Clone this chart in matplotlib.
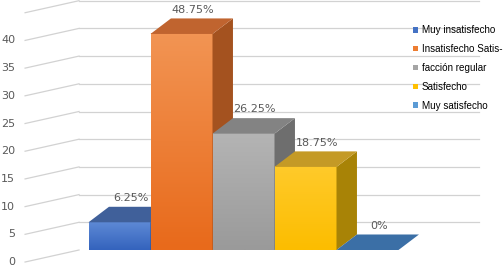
"""Excel-style 3D column chart of satisfaction levels, drawn as oblique faces on a 2D axes."""

import matplotlib
matplotlib.use("Agg")
import matplotlib.pyplot as plt
from matplotlib.colors import LinearSegmentedColormap
from matplotlib.patches import Patch, Polygon
import numpy as np

categories = ["Muy insatisfecho", "Insatisfecho Satis-", "facción regular",
              "Satisfecho", "Muy satisfecho"]
counts = [5, 39, 21, 15, 0]
pct_labels = ["6.25%", "48.75%", "26.25%", "18.75%", "0%"]
yticks = [0, 5, 10, 15, 20, 25, 30, 35, 40]
grid_levels = [5, 10, 15, 20, 25, 30, 35, 40, 45]

# front-top, front-bottom, top face, right side face
colors = [
    ("#5D89D5", "#3463BD", "#40609A", "#2F4F8B"),
    ("#F29453", "#E86A1B", "#C0642F", "#A4521F"),
    ("#B4B4B4", "#9A9A9A", "#838383", "#6E6E6E"),
    ("#FFCA2A", "#FCBD00", "#C49A26", "#A88306"),
    ("#5B9BD5", "#5B9BD5", "#3B6FA6", "#2E5A8A"),
]
legend_colors = ["#4472C4", "#ED7D31", "#A5A5A5", "#FFC000", "#5B9BD5"]

W = 1.0             # bar width in category units
DX, DY = 0.33, 2.8  # oblique depth offset (x in categories, y in value units)
WALL_L, WALL_R = -0.653, 5.80
SIDE_DX, SIDE_DY = 0.87, 2.17

fig = plt.figure(figsize=(5.04, 2.66), dpi=100)
ax = fig.add_axes([0, 0, 1, 1])
ax.set_axis_off()

# back wall gridlines and side-wall diagonals
for v in grid_levels:
    ax.plot([WALL_L, WALL_R], [v, v], color="#D2D2D2", lw=0.9, zorder=1)
for v in yticks + [45]:
    ax.plot([WALL_L - SIDE_DX, WALL_L], [v - SIDE_DY, v], color="#D2D2D2",
            lw=0.9, zorder=1)
for v in yticks:
    ax.text(WALL_L - SIDE_DX - 0.16, v - SIDE_DY, str(v), ha="right", va="center",
            fontsize=8, color="#595959")

for i, (h, lab, (c_top, c_bot, c_lid, c_side)) in enumerate(zip(counts, pct_labels, colors)):
    x0, x1 = i - W / 2, i + W / 2
    z = 3 + i
    if h > 0:
        cmap = LinearSegmentedColormap.from_list(f"g{i}", [c_bot, c_top])
        grad = np.linspace(1, 0, 64).reshape(-1, 1)
        ax.imshow(grad, cmap=cmap, extent=(x0, x1, 0, h), aspect="auto",
                  interpolation="bilinear", zorder=z)
        ax.add_patch(Polygon([(x1, 0), (x1 + DX, DY), (x1 + DX, h + DY), (x1, h)],
                             closed=True, facecolor=c_side, edgecolor="none", zorder=z))
    ax.add_patch(Polygon([(x0, h), (x1, h), (x1 + DX, h + DY), (x0 + DX, h + DY)],
                         closed=True, facecolor=c_lid, edgecolor="none", zorder=z))
    ax.text(i + 0.18, h + DY + 1.6, lab, ha="center", va="center",
            fontsize=8, color="#595959", zorder=10)

handles = [Patch(facecolor=c, edgecolor="none") for c in legend_colors]
ax.legend(handles, categories, loc="upper left", bbox_to_anchor=(0.819, 0.905),
          frameon=False, handlelength=0.5, handleheight=0.5, handletextpad=0.4,
          labelspacing=0.9, borderpad=0, borderaxespad=0,
          prop={"family": ["Liberation Sans", "DejaVu Sans"], "size": 7.1})

ax.set_xlim(-119.5 / 62, (504 - 119.5) / 62)
ax.set_ylim(-16 / 5.54, 250 / 5.54)

fig.savefig("out.png", dpi=100)
